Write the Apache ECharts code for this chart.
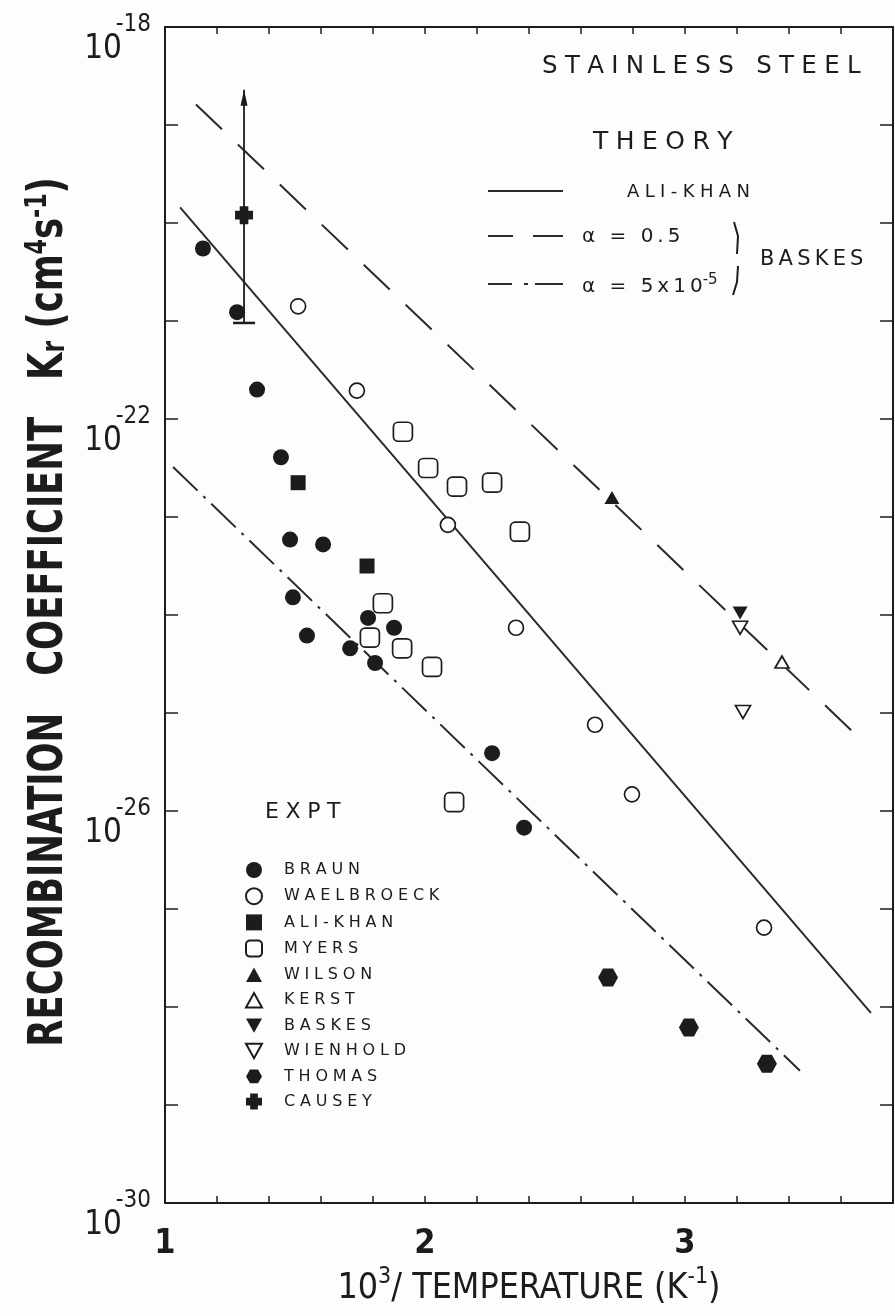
<!DOCTYPE html>
<html lang="en">
<head>
<meta charset="UTF-8">
<title>Recombination coefficient - stainless steel</title>
<script src="https://cdn.jsdelivr.net/npm/echarts@6/dist/echarts.min.js"></script>
<style>html,body{margin:0;padding:0;background:#fdfdfd}</style>
</head>
<body>
<div id="main" style="width:895px;height:1316px"></div>
<script type="text/javascript">
// x = 10^3 / T (1/K), y = log10 of Kr (cm^4 s^-1)
var braun = [[1.146,-20.26],[1.277,-20.91],[1.354,-21.70],[1.446,-22.39],[1.481,-23.23],[1.608,-23.28],
             [1.492,-23.82],[1.546,-24.21],[1.712,-24.34],[1.781,-24.03],[1.881,-24.13],[1.808,-24.49],
             [2.258,-25.41],[2.381,-26.17]];
var waelbroeck = [[1.512,-20.85],[1.738,-21.71],[2.088,-23.08],[2.350,-24.13],[2.654,-25.12],[2.796,-25.83],[3.304,-27.19]];
var aliKhan = [[1.512,-22.65],[1.777,-23.50]];
var myers = [[1.915,-22.13],[2.012,-22.50],[2.123,-22.69],[2.258,-22.65],[2.365,-23.15],
             [1.838,-23.88],[1.788,-24.23],[1.912,-24.34],[2.027,-24.53],[2.112,-25.91]];
var wilson = [[2.719,-22.80]];
var kerst = [[3.373,-24.48]];
var baskes = [[3.212,-23.98]];
var wienhold = [[3.212,-24.13],[3.223,-24.99]];
var thomas = [[2.704,-27.70],[3.015,-28.21],[3.315,-28.58]];
var causey = [[1.304,-19.92]];
var causeyErr = [[1.304,-21.02,-18.64]];   // x, low, high (arrow)

// theory lines (end points)
var aliKhanTheory = [[1.058,-19.84],[3.715,-28.06]];
var baskesA05 = [[1.119,-18.79],[3.700,-25.33]];
var baskesA5e5 = [[1.031,-22.49],[3.442,-28.65]];

var xTickLabels = [1, 2, 3];
var yTickLabels = [-18, -22, -26, -30];

var ink = '#1c1c1c';
var narrow = '"DejaVu Sans Condensed","Liberation Sans Narrow",sans-serif';
var plain = '"DejaVu Sans",sans-serif';

var triUp = 'path://M5,0 L10,9 L0,9 Z';
var triDown = 'path://M0,0 L10,0 L5,9 Z';
var hexagon = 'path://M0,5 L2.9,0 L8.7,0 L11.6,5 L8.7,10 L2.9,10 Z';
var plus = 'path://M2.6,0 L7.4,0 L7.4,2.6 L10,2.6 L10,7.4 L7.4,7.4 L7.4,10 L2.6,10 L2.6,7.4 L0,7.4 L0,2.6 L2.6,2.6 Z';

// wide letter spacing like the original lettering
function spaced(s, gap) { return s.split('').join(gap || '\u2009'); }
var wide = '\u2009\u200a';

function scatter(name, data, symbol, size, open) {
    return {
        name: name, type: 'scatter', data: data, symbol: symbol, symbolSize: size,
        itemStyle: open ? {color: '#fdfdfd', borderColor: ink, borderWidth: 1.7, opacity: 1}
                        : {color: ink, opacity: 1},
        z: 5
    };
}
function theory(data, type) {
    return {
        type: 'line', data: data, symbol: 'none', silent: true,
        lineStyle: {color: '#2a2a2a', width: 2, type: type}, z: 2
    };
}

var errData = [];
causeyErr.forEach(function (d) {
    errData.push({value: [d[0], d[1]], symbol: 'rect', symbolSize: [22, 2.5]});
    errData.push({value: [d[0], d[2]], symbol: 'triangle', symbolSize: [7, 16], symbolOffset: [0, 8]});
});

var myChart = echarts.init(document.getElementById('main'));

var axisCommon = {
    type: 'value',
    axisLine: {show: true, onZero: false, lineStyle: {color: ink, width: 2}},
    splitLine: {show: false}
};

var option = {
    backgroundColor: '#fdfdfd',
    animation: false,
    grid: {left: 165, right: 2, top: 27, bottom: 113, outerBoundsMode: 'none', containLabel: false},
    legend: {
        orient: 'vertical', left: 240, top: 857,
        itemWidth: 16, itemHeight: 16, itemGap: 9.2,
        selectedMode: false,
        data: ['BRAUN', 'WAELBROECK', 'ALI-KHAN', 'MYERS', 'WILSON', 'KERST', 'BASKES', 'WIENHOLD', 'THOMAS', 'CAUSEY'],
        textStyle: {fontFamily: plain, fontSize: 16, color: ink, padding: [0, 0, 0, 17]},
        formatter: function (n) { return spaced(n, wide); }
    },
    xAxis: [
        Object.assign({}, axisCommon, {
            position: 'bottom', min: 1, max: 3.8, interval: 0.2,
            axisTick: {show: true, inside: true, length: 7, lineStyle: {color: ink, width: 1.5}},
            axisLabel: {
                margin: 24, color: ink, fontFamily: narrow, fontSize: 34, fontWeight: 'bold',
                formatter: function (v) {
                    var r = Math.round(v);
                    return (Math.abs(v - r) < 1e-6 && xTickLabels.indexOf(r) >= 0) ? String(r) : '';
                }
            },
            name: '{n|10}{s|3}{n|/ TEMPERATURE (K}{s|-1}{n|)}',
            nameLocation: 'middle', nameGap: 62,
            nameTextStyle: {
                rich: {
                    n: {fontFamily: narrow, fontSize: 35.5, color: ink, lineHeight: 40},
                    s: {fontFamily: narrow, fontSize: 23, color: ink, lineHeight: 40, padding: [0, 0, 22, 0]}
                }
            }
        }),
        Object.assign({}, axisCommon, {
            position: 'top', min: 1, max: 3.8, interval: 0.2,
            axisTick: {show: true, inside: true, length: 7, lineStyle: {color: ink, width: 1.5}},
            axisLabel: {show: false}
        })
    ],
    yAxis: [
        Object.assign({}, axisCommon, {
            position: 'left', min: -30, max: -18, interval: 1,
            axisTick: {show: true, inside: true, length: 13, lineStyle: {color: ink, width: 1.5}},
            axisLabel: {
                margin: 14, color: ink,
                formatter: function (v) {
                    var e = Math.round(v);
                    return yTickLabels.indexOf(e) >= 0 ? '{b|10}{s|' + e + '}' : '';
                },
                rich: {
                    b: {fontFamily: narrow, fontSize: 33, lineHeight: 36, color: ink, padding: [44, 0, 0, 0]},
                    s: {fontFamily: narrow, fontSize: 24, lineHeight: 36, color: ink, padding: [0, 0, 4, 0],
                        width: 29, align: 'right'}
                }
            }
        }),
        Object.assign({}, axisCommon, {
            position: 'right', min: -30, max: -18, interval: 1,
            axisTick: {show: true, inside: true, length: 13, lineStyle: {color: ink, width: 1.5}},
            axisLabel: {show: false}
        })
    ],
    graphic: [
        // y axis title, condensed lettering
        {type: 'text', x: 50, y: 612, rotation: Math.PI / 2, scaleX: 0.82,
            style: {text: '{t|RECOMBINATION   COEFFICIENT   K}{u|r}{t| (cm}{p|4}{t|s}{p|-1}{t|)}',
                align: 'center', verticalAlign: 'middle',
                rich: {
                    t: {fontFamily: narrow, fontWeight: 'bold', fontSize: 48, fill: ink, lineHeight: 48},
                    u: {fontFamily: narrow, fontWeight: 'bold', fontSize: 32, fill: ink, lineHeight: 48, padding: [12, 0, 0, 0]},
                    p: {fontFamily: narrow, fontWeight: 'bold', fontSize: 30, fill: ink, lineHeight: 48, padding: [0, 0, 24, 0]}
                }}},
        {type: 'text', style: {x: 542, y: 67, text: spaced('STAINLESS STEEL', wide), font: '24.5px ' + plain, fill: ink, verticalAlign: 'middle'}},
        {type: 'text', style: {x: 593, y: 142, text: spaced('THEORY', wide), font: '25px ' + plain, fill: ink, verticalAlign: 'middle'}},
        {type: 'line', shape: {x1: 488, y1: 191, x2: 563, y2: 191}, style: {stroke: '#2a2a2a', lineWidth: 2}},
        {type: 'text', style: {x: 627, y: 192, text: spaced('ALI-KHAN', wide), font: '18px ' + plain, fill: ink, verticalAlign: 'middle'}},
        {type: 'line', shape: {x1: 488, y1: 236, x2: 513, y2: 236}, style: {stroke: '#2a2a2a', lineWidth: 2}},
        {type: 'line', shape: {x1: 533, y1: 236, x2: 563, y2: 236}, style: {stroke: '#2a2a2a', lineWidth: 2}},
        {type: 'text', style: {x: 582, y: 237, text: spaced('\u03b1 = 0.5'), font: '20px ' + plain, fill: ink, verticalAlign: 'middle'}},
        {type: 'line', shape: {x1: 488, y1: 284, x2: 512, y2: 284}, style: {stroke: '#2a2a2a', lineWidth: 2}},
        {type: 'line', shape: {x1: 524, y1: 284, x2: 528, y2: 284}, style: {stroke: '#2a2a2a', lineWidth: 2}},
        {type: 'line', shape: {x1: 535, y1: 284, x2: 563, y2: 284}, style: {stroke: '#2a2a2a', lineWidth: 2}},
        {type: 'text', style: {x: 582, y: 287, text: '{a|' + spaced('\u03b1 = 5x10') + '}{b|-5}', verticalAlign: 'middle',
            rich: {a: {font: '20px ' + plain, fill: ink, lineHeight: 22}, b: {font: '15px ' + plain, fill: ink, lineHeight: 22, padding: [0, 0, 14, 0]}}}},
        {type: 'polyline', shape: {points: [[734, 222], [738, 236], [737, 254]]}, style: {stroke: ink, lineWidth: 2, fill: null}},
        {type: 'polyline', shape: {points: [[738, 266], [737, 282], [733, 295]]}, style: {stroke: ink, lineWidth: 2, fill: null}},
        {type: 'text', style: {x: 760, y: 260, text: spaced('BASKES'), font: '21px ' + plain, fill: ink, verticalAlign: 'middle'}},
        {type: 'text', style: {x: 265, y: 812, text: spaced('EXPT', wide), font: '22px ' + plain, fill: ink, verticalAlign: 'middle'}}
    ],
    series: [
        theory(aliKhanTheory, 'solid'),
        theory(baskesA05, [36, 22]),
        theory(baskesA5e5, [34, 8, 3, 8]),
        {
            type: 'line', data: errData, silent: true, z: 3,
            lineStyle: {color: ink, width: 1.8}, itemStyle: {color: ink, opacity: 1}
        },
        scatter('BRAUN', braun, 'circle', 16, false),
        scatter('WAELBROECK', waelbroeck, 'circle', 15, true),
        scatter('ALI-KHAN', aliKhan, 'rect', 15, false),
        scatter('MYERS', myers, 'roundRect', 19, true),
        scatter('WILSON', wilson, triUp, [15, 13], false),
        scatter('KERST', kerst, triUp, [14, 12], true),
        scatter('BASKES', baskes, triDown, [15, 13], false),
        scatter('WIENHOLD', wienhold, triDown, [15, 13], true),
        scatter('THOMAS', thomas, hexagon, [20, 18], false),
        scatter('CAUSEY', causey, plus, 18, false)
    ]
};
myChart.setOption(option);
</script>
</body>
</html>
